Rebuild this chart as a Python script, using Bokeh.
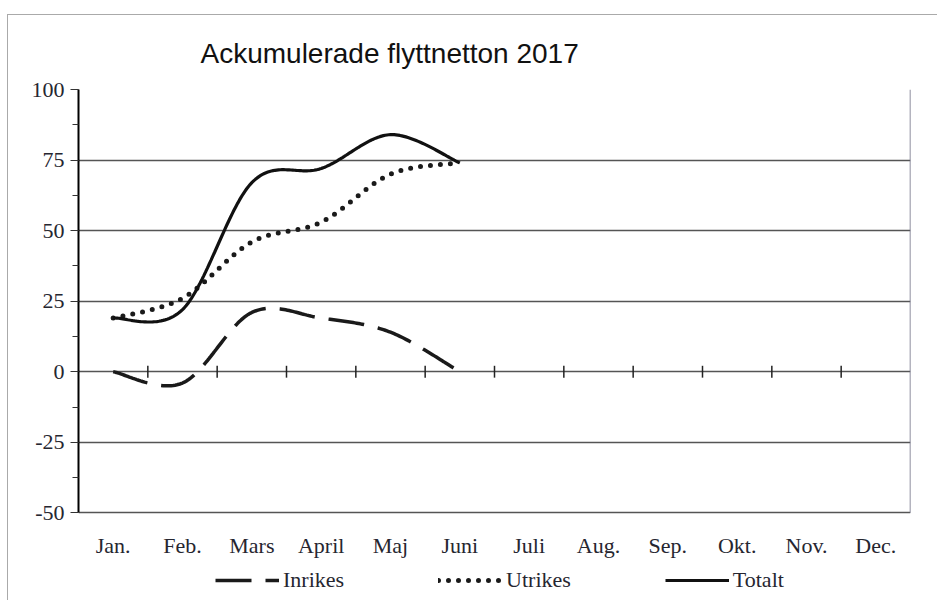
import numpy as np
from bokeh.plotting import figure
from bokeh.models import (FixedTicker, Legend, LegendItem, Range1d)
from bokeh.core.properties import value
from bokeh.embed import file_html
from bokeh.resources import INLINE

# ---- data ----
months = ["Jan.", "Feb.", "Mars", "April", "Maj", "Juni", "Juli", "Aug.", "Sep.", "Okt.", "Nov.", "Dec."]
inrikes = [0, -4, 21, 19, 14, 0]
utrikes = [19, 26, 46, 53, 70, 74]
totalt = [19, 22, 67, 72, 84, 74]
y_ticks = [-50, -25, 0, 25, 50, 75, 100]
y_tick_labels = ["-50", "-25", "0", "25", "50", "75", "100"]
title_text = "Ackumulerade flyttnetton 2017"


def smooth(xs, ys, n=40):
    """Excel-style smoothed line (Catmull-Rom bezier) through the given points."""
    xs = np.asarray(xs, float)
    ys = np.asarray(ys, float)
    px = np.concatenate([[xs[0]], xs, [xs[-1]]])
    py = np.concatenate([[ys[0]], ys, [ys[-1]]])
    outx, outy = [], []
    t = np.linspace(0, 1, n)
    for i in range(1, len(px) - 2):
        p0x, p1x, p2x, p3x = px[i - 1], px[i], px[i + 1], px[i + 2]
        p0y, p1y, p2y, p3y = py[i - 1], py[i], py[i + 1], py[i + 2]
        c1x, c1y = p1x + (p2x - p0x) / 6, p1y + (p2y - p0y) / 6
        c2x, c2y = p2x - (p3x - p1x) / 6, p2y - (p3y - p1y) / 6
        bx = (1 - t) ** 3 * p1x + 3 * (1 - t) ** 2 * t * c1x + 3 * (1 - t) * t ** 2 * c2x + t ** 3 * p2x
        by = (1 - t) ** 3 * p1y + 3 * (1 - t) ** 2 * t * c1y + 3 * (1 - t) * t ** 2 * c2y + t ** 3 * p2y
        if i > 1:
            bx, by = bx[1:], by[1:]
        outx.extend(bx)
        outy.extend(by)
    return outx, outy


xpos = list(range(1, len(inrikes) + 1))
ymin, ymax = y_ticks[0], y_ticks[-1]
x_end = len(months) + 0.5

serif = "Liberation Serif"
text_col = "#262630"

# the frame is extended below the value axis to hold month labels and legend
p = figure(width=930, height=586, output_backend="svg", toolbar_location=None,
           x_range=Range1d(0.5, x_end), y_range=Range1d(-80, ymax),
           min_border_left=70, min_border_right=28, min_border_top=73, min_border_bottom=4)
p.styles = {"margin-top": "14px", "margin-left": "7px",
            "border-top": "1px solid #aaa", "border-left": "1px solid #aaa"}
p.background_fill_color = "white"
p.border_fill_color = "white"
p.outline_line_color = None

# title
p.title.text = title_text
p.title.text_font = "Liberation Sans"
p.title.text_font_size = "28px"
p.title.text_font_style = "normal"
p.title.text_color = "#111"
p.title.align = "left"
p.title.offset = 122
p.title.standoff = 41

# y axis
p.yaxis.bounds = (ymin, ymax)
p.yaxis.ticker = FixedTicker(ticks=y_ticks, minor_ticks=list(np.arange(ymin, ymax + 1, 12.5)))
p.yaxis.major_label_overrides = dict(zip(y_ticks, y_tick_labels))
p.yaxis.axis_line_color = "black"
p.yaxis.axis_line_width = 2
p.yaxis.major_tick_in = 0
p.yaxis.major_tick_out = 8
p.yaxis.minor_tick_in = 0
p.yaxis.minor_tick_out = 6
p.yaxis.major_tick_line_color = "#333"
p.yaxis.minor_tick_line_color = "#333"
p.yaxis.major_label_text_font = serif
p.yaxis.major_label_text_font_size = "22px"
p.yaxis.major_label_text_color = text_col
p.yaxis.major_label_standoff = 6

p.xaxis.visible = False
p.xgrid.grid_line_color = None
p.ygrid.ticker = FixedTicker(ticks=y_ticks)
p.ygrid.grid_line_color = "#555"
p.ygrid.grid_line_width = 1.5

# right border of the plot area
p.segment(x0=[x_end], x1=[x_end], y0=[ymin], y1=[ymax], line_color="#6a6a80", line_width=1.5)

# tick marks on the zero line at category boundaries
bounds = [i + 0.5 for i in range(1, len(months))]
p.segment(x0=bounds, x1=bounds, y0=[-2.1] * len(bounds), y1=[2.1] * len(bounds),
          line_color="#222", line_width=1.5)

# month labels below the plot area
p.text(x=list(range(1, len(months) + 1)), y=[-61.5] * len(months), text=months,
       text_font=value(serif), text_font_size="22px", text_color=text_col,
       text_align="center", text_baseline="middle")

ix, iy = smooth(xpos, inrikes)
ux, uy = smooth(xpos, utrikes)
tx, ty = smooth(xpos, totalt)

r_in = p.line(ix, iy, line_color="#1a1a1a", line_width=3.5, line_dash="36 14")
r_ut = p.line(ux, uy, line_color="#1a1a1a", line_width=5, line_dash="0 10", line_cap="round")
r_to = p.line(tx, ty, line_color="#111", line_width=3.2)

legend = Legend(items=[LegendItem(label="Inrikes", renderers=[r_in]),
                       LegendItem(label="Utrikes", renderers=[r_ut]),
                       LegendItem(label="Totalt", renderers=[r_to])],
                orientation="horizontal", location=(137, 4), padding=5, margin=0,
                label_text_font=serif, label_text_font_size="22px", label_text_color=text_col,
                glyph_width=64, spacing=94, label_standoff=4,
                background_fill_alpha=0, border_line_color=None)
p.add_layout(legend, "center")

open("out.html", "w").write(file_html(p, INLINE))
